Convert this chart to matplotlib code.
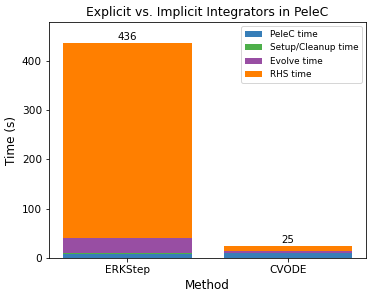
import matplotlib
matplotlib.use('Agg')
import matplotlib.pyplot as plt
import numpy as np

methods = ['ERKStep', 'CVODE']
pelec = [9.0, 10.0]
setup = [0.5, 1.0]
evolve = [31.0, 3.0]
rhs = [395.5, 11.0]
totals = [436, 25]

colors = ['#377eb8', '#4daf4a', '#984ea3', '#ff7f00']
labels = ['PeleC time', 'Setup/Cleanup time', 'Evolve time', 'RHS time']

fig, ax = plt.subplots(figsize=(374 / 72, 297 / 72), dpi=72)
x = np.arange(len(methods))
bottom = np.zeros(len(methods))
for vals, c, lab in zip([pelec, setup, evolve, rhs], colors, labels):
    ax.bar(x, vals, 0.8, bottom=bottom, color=c, label=lab)
    bottom += np.array(vals)

for xi, t in zip(x, totals):
    ax.text(xi, t + 2, f'{t}', ha='center', va='bottom', fontsize=10.2)

ax.set_xticks(x)
ax.set_xticklabels(methods, fontsize=10.5)
ax.tick_params(axis='y', labelsize=10.5)
ax.set_ylim(0, 478)
ax.set_xlabel('Method', fontsize=12)
ax.set_ylabel('Time (s)', fontsize=12)
ax.set_title('Explicit vs. Implicit Integrators in PeleC', fontsize=12.4)
ax.legend(loc='upper right', fontsize=8.9)
fig.subplots_adjust(left=0.131, right=0.979, top=0.926, bottom=0.131)
fig.savefig('out.png', dpi=72)
